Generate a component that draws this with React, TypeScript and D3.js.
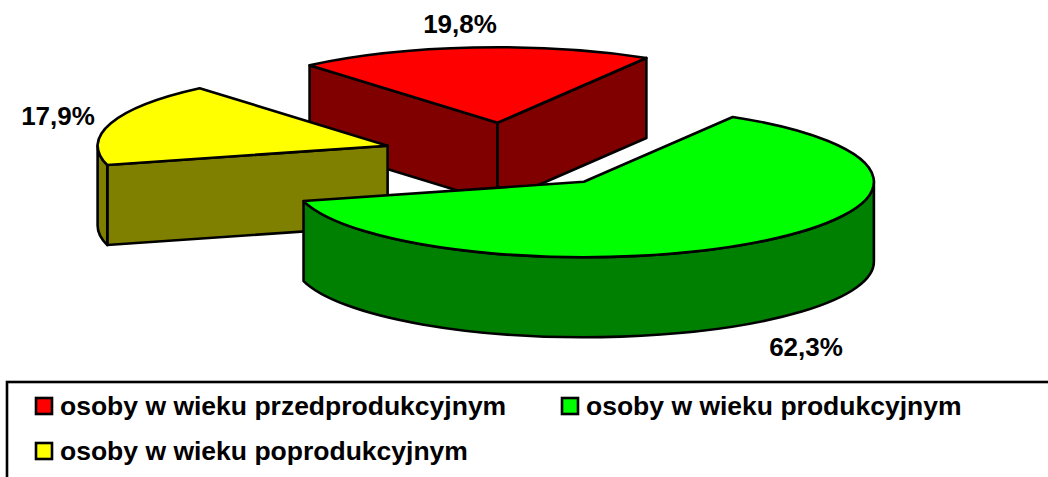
import React from 'react';
import * as d3 from 'd3';

const categories = ['osoby w wieku przedprodukcyjnym', 'osoby w wieku produkcyjnym', 'osoby w wieku poprodukcyjnym'];
const shares = [19.8, 62.3, 17.9];
const labels = ['19,8%', '62,3%', '17,9%'];
const topColors = ['#ff0000', '#00ff00', '#ffff00'];
const sideColors = ['#800000', '#008000', '#808000'];

const width = 1048;
const height = 477;
const rx = 290; // promień poziomy elipsy
const ry = 75.5; // spłaszczenie
const depth = 80;
const explode = 0.435;
const center = { x: 508, y: 155.5 };
const firstAngle = (-40.4 * Math.PI) / 180;
const fontFamily = '"Liberation Sans", Arial, sans-serif';

const labelPos = [
  { x: 460, y: 32.5 },
  { x: 806, y: 356 },
  { x: 58, y: 125 },
];
const legendPos = [
  { x: 35, y: 397 },
  { x: 561, y: 397 },
  { x: 35, y: 442 },
];

const pie = d3
  .pie<number>()
  .value((d) => d)
  .sort(null)
  .startAngle(firstAngle)
  .endAngle(firstAngle + 2 * Math.PI);

const slices = pie(shares);

// kąt liczony od góry, zgodnie z ruchem wskazówek
const px = (a: number) => rx * Math.sin(a);
const py = (a: number) => -ry * Math.cos(a);

const arcGen = d3.arc<d3.PieArcDatum<number>>().innerRadius(0).outerRadius(rx);

const rimPath = (a0: number, a1: number, cx: number, cy: number) => {
  const x0 = cx + px(a0);
  const y0 = cy + py(a0);
  const x1 = cx + px(a1);
  const y1 = cy + py(a1);
  const large = a1 - a0 > Math.PI ? 1 : 0;
  return (
    `M${x0},${y0}A${rx},${ry} 0 ${large} 1 ${x1},${y1}` +
    `L${x1},${y1 + depth}A${rx},${ry} 0 ${large} 0 ${x0},${y0 + depth}Z`
  );
};

const facePath = (a: number, cx: number, cy: number) => {
  const x = cx + px(a);
  const y = cy + py(a);
  return `M${cx},${cy}L${x},${y}L${x},${y + depth}L${cx},${cy + depth}Z`;
};

const Slice = ({ d, i }: { d: d3.PieArcDatum<number>; i: number }) => {
  const mid = (d.startAngle + d.endAngle) / 2;
  const cx = center.x + explode * px(mid);
  const cy = center.y + explode * py(mid);
  const from = Math.max(d.startAngle, Math.PI / 2);
  const to = Math.min(d.endAngle, (3 * Math.PI) / 2);
  const line = { stroke: '#000', strokeWidth: 2.6, strokeLinejoin: 'round' as const };

  // ściany cięcia widoczne tylko gdy patrzą w stronę widza
  const faces: number[] = [];
  if (Math.sin(d.startAngle) < 0 && Math.cos(d.startAngle) > 0) faces.push(d.startAngle);
  if (Math.sin(d.endAngle) > 0 && Math.cos(d.endAngle) > 0) faces.push(d.endAngle);
  if (d.endAngle > (3 * Math.PI) / 2 && Math.cos(d.startAngle) < 0 && Math.sin(d.startAngle) < 0) faces.push(d.startAngle);

  return (
    <g>
      {faces.map((a) => (
        <path key={a} d={facePath(a, cx, cy)} fill={sideColors[i]} {...line} />
      ))}
      {from < to && <path d={rimPath(from, to, cx, cy)} fill={sideColors[i]} {...line} />}
      <path
        d={arcGen(d) || ''}
        transform={`translate(${cx},${cy}) scale(1,${ry / rx})`}
        fill={topColors[i]}
        vectorEffect="non-scaling-stroke"
        {...line}
      />
    </g>
  );
};

export default function App() {
  return (
    <svg
      width={width}
      height={height}
      viewBox={`0 0 ${width} ${height}`}
      style={{ position: 'fixed', left: 0, top: 0, display: 'block', background: '#fff' }}
      fontFamily={fontFamily}
      fontWeight="bold"
    >
      {/* kolejność rysowania: tył, lewa, przód */}
      {[0, 2, 1].map((i) => (
        <Slice key={i} d={slices[i]} i={i} />
      ))}
      {labels.map((t, i) => (
        <text key={t} x={labelPos[i].x} y={labelPos[i].y} fontSize={26} textAnchor="middle" fill="#000">
          {t}
        </text>
      ))}
      <rect x={7} y={382} width={width + 20} height={height} fill="none" stroke="#000" strokeWidth={2.6} />
      {categories.map((c, i) => (
        <g key={c}>
          <rect
            x={legendPos[i].x + 1}
            y={legendPos[i].y + 1}
            width={16}
            height={16}
            fill={topColors[i]}
            stroke="#000"
            strokeWidth={2.6}
          />
          <text x={legendPos[i].x + 25} y={legendPos[i].y + 18} fontSize={26.5} fill="#000">
            {c}
          </text>
        </g>
      ))}
    </svg>
  );
}
